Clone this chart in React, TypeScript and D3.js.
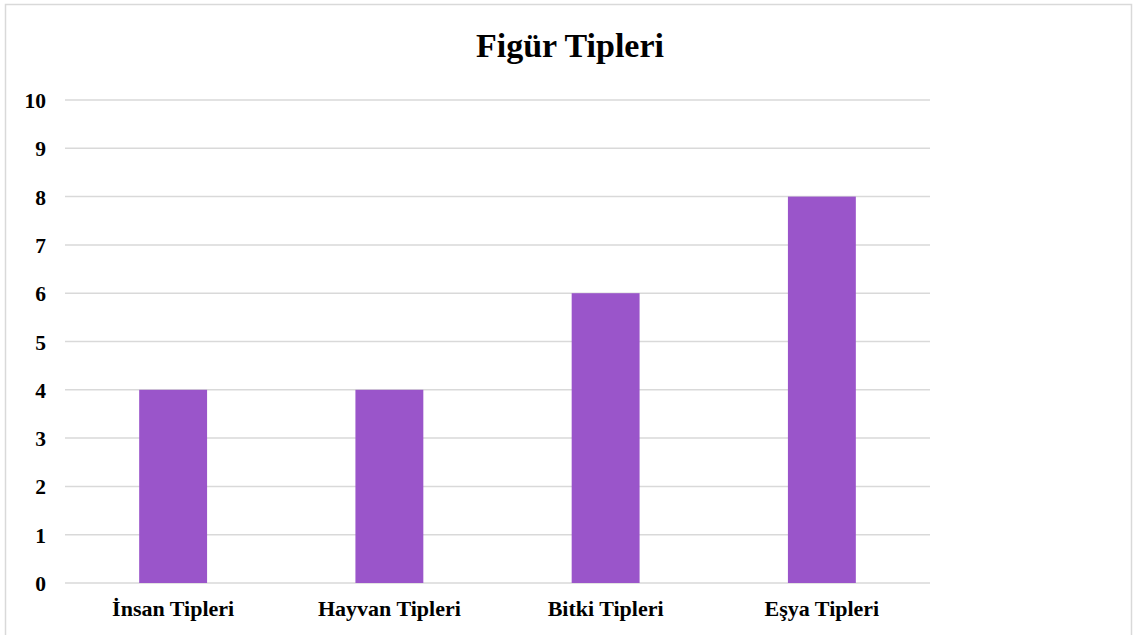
import { useEffect, useRef } from 'react';
import * as d3 from 'd3';

const categories = ['İnsan Tipleri', 'Hayvan Tipleri', 'Bitki Tipleri', 'Eşya Tipleri'];
const values = [4, 4, 6, 8];
const yTicks = [0, 1, 2, 3, 4, 5, 6, 7, 8, 9, 10];
const title = 'Figür Tipleri';

const App = () => {
  const svgRef = useRef<SVGSVGElement | null>(null);

  useEffect(() => {
    const width = 1134;
    const height = 635;
    const svg = d3.select(svgRef.current);
    svg.selectAll('*').remove();
    svg.attr('width', width).attr('height', height);

    const font = '"Liberation Serif", "Times New Roman", serif';

    // outer chart frame
    svg.append('rect')
      .attr('x', 5.5).attr('y', 4.5)
      .attr('width', 1126).attr('height', 640)
      .attr('fill', 'white')
      .attr('stroke', '#d9d9d9')
      .attr('stroke-width', 1.5);

    const x = d3.scaleBand<string>()
      .domain(categories)
      .range([65, 930])
      .padding(0);

    const y = d3.scaleLinear()
      .domain([0, 10])
      .range([583, 100]);

    // gridlines
    svg.append('g')
      .selectAll('line')
      .data(yTicks)
      .enter()
      .append('line')
      .attr('x1', 65).attr('x2', 930)
      .attr('y1', d => y(d)).attr('y2', d => y(d))
      .attr('stroke', '#d9d9d9')
      .attr('stroke-width', 1.5);

    // y tick labels
    svg.append('g')
      .selectAll('text')
      .data(yTicks)
      .enter()
      .append('text')
      .attr('x', 46)
      .attr('y', d => y(d) + 8)
      .attr('text-anchor', 'end')
      .style('font-family', font)
      .style('font-weight', 'bold')
      .style('font-size', '21.5px')
      .text(d => d);

    // bars
    const barW = x.bandwidth() * 0.314;
    svg.append('g')
      .selectAll('rect')
      .data(values)
      .enter()
      .append('rect')
      .attr('x', (_, i) => (x(categories[i]) ?? 0) + x.bandwidth() / 2 - barW / 2)
      .attr('y', d => y(d))
      .attr('width', barW)
      .attr('height', d => y(0) - y(d))
      .attr('fill', '#9a55ca');

    // category labels
    svg.append('g')
      .selectAll('text')
      .data(categories)
      .enter()
      .append('text')
      .attr('x', d => (x(d) ?? 0) + x.bandwidth() / 2)
      .attr('y', 616)
      .attr('text-anchor', 'middle')
      .style('font-family', font)
      .style('font-weight', 'bold')
      .style('font-size', '22px')
      .text(d => d);

    // title
    svg.append('text')
      .attr('x', 570)
      .attr('y', 57)
      .attr('text-anchor', 'middle')
      .style('font-family', font)
      .style('font-weight', 'bold')
      .style('font-size', '34px')
      .text(title);
  }, []);

  return (
    <svg ref={svgRef} style={{ position: 'absolute', left: 0, top: 0, display: 'block' }}></svg>
  );
};

export default App;
